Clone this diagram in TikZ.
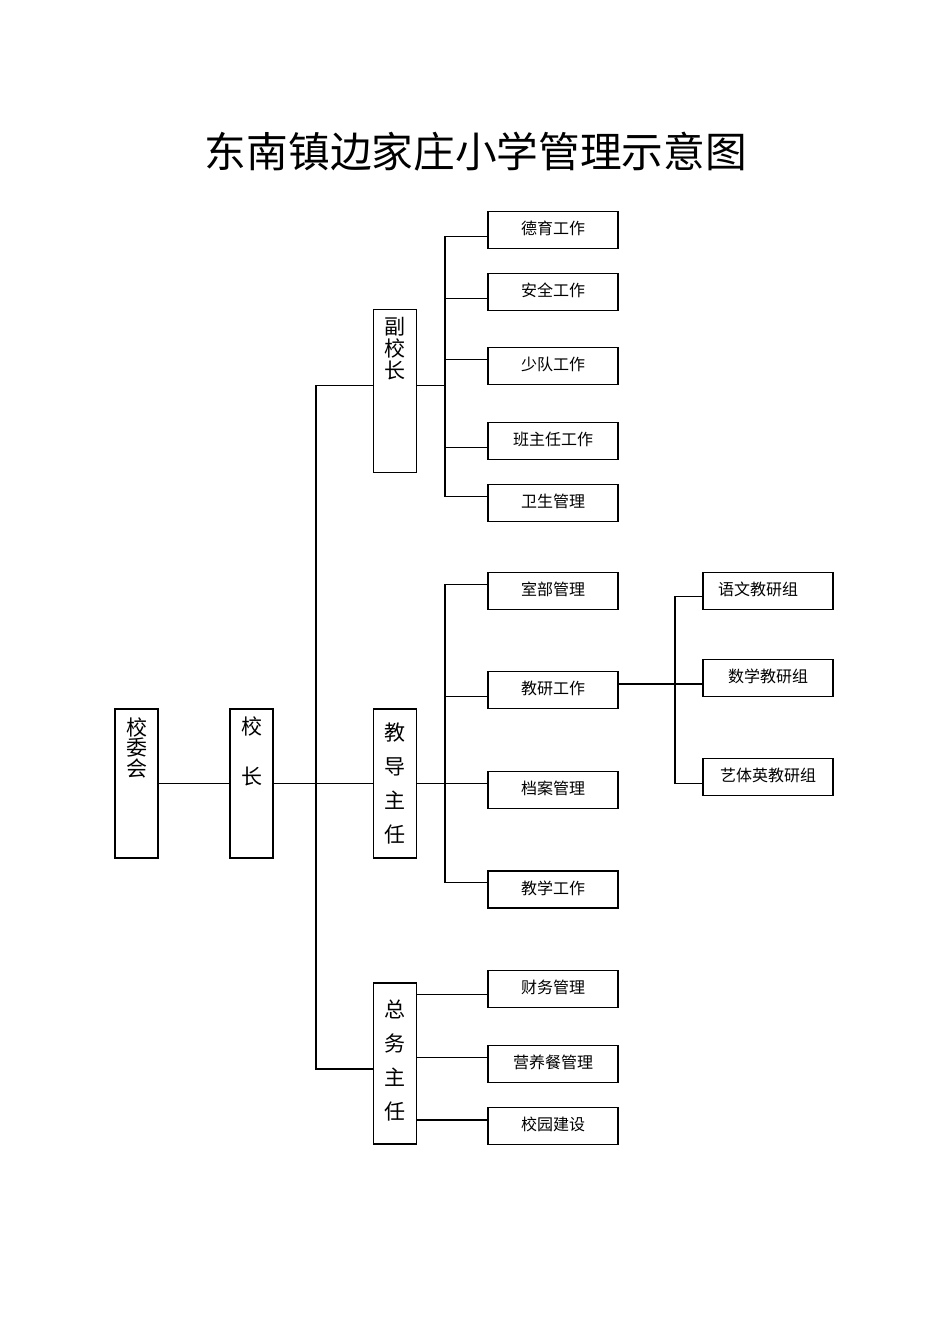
\documentclass[tikz,border=0pt]{standalone}
\usepackage{fontspec}
\newfontfamily\cjk{Noto Sans CJK SC}
\usetikzlibrary{positioning}
\tikzset{
  post/.style={draw, line width=1.1pt, minimum width=43pt, inner sep=0pt},
  posttext/.style={align=center, inner sep=0pt, font=\cjk\fontsize{21}{#1}\selectfont},
  posttext/.default=22,
  task/.style={
    draw, line width=1.1pt, minimum width=130pt, minimum height=37pt,
    inner sep=0pt, text height=23pt, text depth=14pt,
    font=\cjk\fontsize{16}{18}\selectfont
  },
  link/.style={line width=1.1pt}
}

\begin{document}
\begin{tikzpicture}[x=1pt,y=-1pt]
  \useasboundingbox (0,0) rectangle (950,1344);
  \node (title) at (476,152) {\cjk\fontsize{41.7}{46}\selectfont 东南镇边家庄小学管理示意图};

  % left column
  \node[post,minimum height=149pt] (xwh) at (136.5,783.5) {};
  \node[posttext=20.5,below=9pt of xwh.north] (xwht) {校\\委\\会};
  \node[post,minimum height=149pt] (xz) at (251.5,783.5) {};
  \node[posttext=50,below=8pt of xz.north] (xzt) {校\\长};

  % middle column
  \node[post,minimum height=162.5pt] (fu) at (395,391) {};
  \node[posttext,below=8pt of fu.north] (fut) {副\\校\\长};
  \node[post,minimum height=149pt] (jd) at (395,783.5) {};
  \node[posttext=34,below=14pt of jd.north] (jdt) {教\\导\\主\\任};
  \node[post,minimum height=161pt] (zw) at (395,1063.5) {};
  \node[posttext=34,below=17pt of zw.north] (zwt) {总\\务\\主\\任};

  % tasks
  \node[task] (dy) at (553,229.7) {德育工作};
  \node[task] (aq) at (553,291.8) {安全工作};
  \node[task] (sd) at (553,366.4) {少队工作};
  \node[task] (bzr) at (553,441.4) {班主任工作};
  \node[task] (ws) at (553,503) {卫生管理};
  \node[task] (sb) at (553,590.8) {室部管理};
  \node[task] (jy) at (553,690.3) {教研工作};
  \node[task] (da) at (553,789.6) {档案管理};
  \node[task] (jx) at (553,889.5) {教学工作};
  \node[task] (cw) at (553,989.2) {财务管理};
  \node[task] (yyc) at (553,1063.7) {营养餐管理};
  \node[task] (xy) at (553,1126.3) {校园建设};

  % groups
  \node[task] (yw) at (768,590.8) {\makebox[100pt][l]{语文教研组}};
  \node[task] (sx) at (768,677.8) {数学教研组};
  \node[task] (ytc) at (768,777.3) {艺体英教研组};

  % trunk
  \coordinate (trunk) at (316,783.5);
  \draw[link] (xwh) -- (xz);
  \draw[link] (xz) -- (jd);
  \draw[link] ([yshift=5.3pt]fu.west) -| (trunk);
  \draw[link] (trunk) |- ([yshift=-5.5pt]zw.west);

  % vice principal
  \coordinate (fj) at (445,385.7);
  \draw[link] ([yshift=5.3pt]fu.east) -- (fj);
  \foreach \n/\s in {dy/-6.5,aq/-6.5,sd/6.5,bzr/-6.5,ws/6.5}
    \draw[link] (fj) |- ([yshift=\s pt]\n.west);

  % teaching director
  \coordinate (jj) at (445,783.5);
  \draw[link] (jd) -- (jj);
  \foreach \n/\s in {sb/6.5,jy/-6.4,da/6.3,jx/6.8}
    \draw[link] (jj) |- ([yshift=\s pt]\n.west);

  \coordinate (kj) at (675,684);
  \draw[link] ([yshift=6.3pt]jy.east) -- (kj);
  \foreach \n/\s in {yw/-6,sx/-6.2,ytc/-6}
    \draw[link] (kj) |- ([yshift=\s pt]\n.west);

  % general affairs
  \coordinate (cwl) at ([yshift=-5.1pt]cw.west);
  \coordinate (yycl) at ([yshift=6.4pt]yyc.west);
  \coordinate (xyl) at ([yshift=6.3pt]xy.west);
  \draw[link] (zw.east |- cwl) -- (cwl);
  \draw[link] (zw.east |- yycl) -- (yycl);
  \draw[link] (zw.east |- xyl) -- (xyl);
\end{tikzpicture}
\end{document}
